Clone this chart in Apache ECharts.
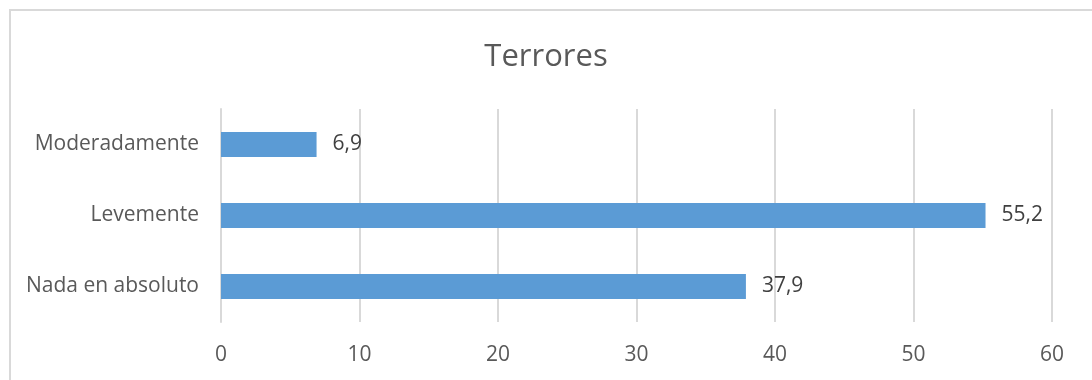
<!DOCTYPE html>
<html>
<head>
<meta charset="utf-8">
<script src="https://cdn.jsdelivr.net/npm/echarts@6/dist/echarts.min.js"></script>
<style>
  html, body { margin: 0; padding: 0; background: #ffffff; }
  #chart { width: 1092px; height: 380px; }
</style>
</head>
<body>
<div id="chart"></div>
<script>
// Categories listed bottom to top
const categories = ['Nada en absoluto', 'Levemente', 'Moderadamente'];
const values = [37.9, 55.2, 6.9];
const xTicks = [0, 10, 20, 30, 40, 50, 60];

const FONT = '"Open Sans", "Noto Sans", sans-serif';

const chart = echarts.init(document.getElementById('chart'), null, { renderer: 'canvas' });

chart.setOption({
  animation: false,
  backgroundColor: '#ffffff',
  title: {
    text: 'Terrores',
    left: 'center',
    top: 37,
    textStyle: { fontFamily: FONT, fontSize: 31, fontWeight: 'normal', color: '#595959' }
  },
  graphic: [{
    type: 'rect',
    shape: { x: 10, y: 10, width: 1100, height: 400 },
    style: { fill: 'none', stroke: '#d9d9d9', lineWidth: 2 },
    silent: true
  }],
  grid: { left: 221, right: 40, top: 109, bottom: 58, containLabel: false },
  xAxis: {
    type: 'value',
    min: xTicks[0],
    max: xTicks[xTicks.length - 1],
    interval: 10,
    axisLine: { show: false },
    axisTick: { show: false },
    splitLine: { show: true, lineStyle: { color: '#d9d9d9', width: 2 } },
    axisLabel: { fontFamily: FONT, fontSize: 21, color: '#595959', margin: 23 }
  },
  yAxis: {
    type: 'category',
    data: categories,
    axisLine: { show: true, lineStyle: { color: '#d9d9d9', width: 2 } },
    axisTick: { show: false },
    axisLabel: { fontFamily: FONT, fontSize: 21, color: '#595959', margin: 22, padding: [3, 0, 0, 0] }
  },
  series: [{
    type: 'bar',
    data: values,
    barWidth: '35%',
    itemStyle: { color: '#5b9bd5' },
    label: {
      show: true,
      position: 'right',
      distance: 16,
      fontFamily: FONT,
      fontSize: 21,
      color: '#404040',
      padding: [3, 0, 0, 0],
      formatter: p => String(p.value).replace('.', ',')
    }
  }]
});
</script>
</body>
</html>
